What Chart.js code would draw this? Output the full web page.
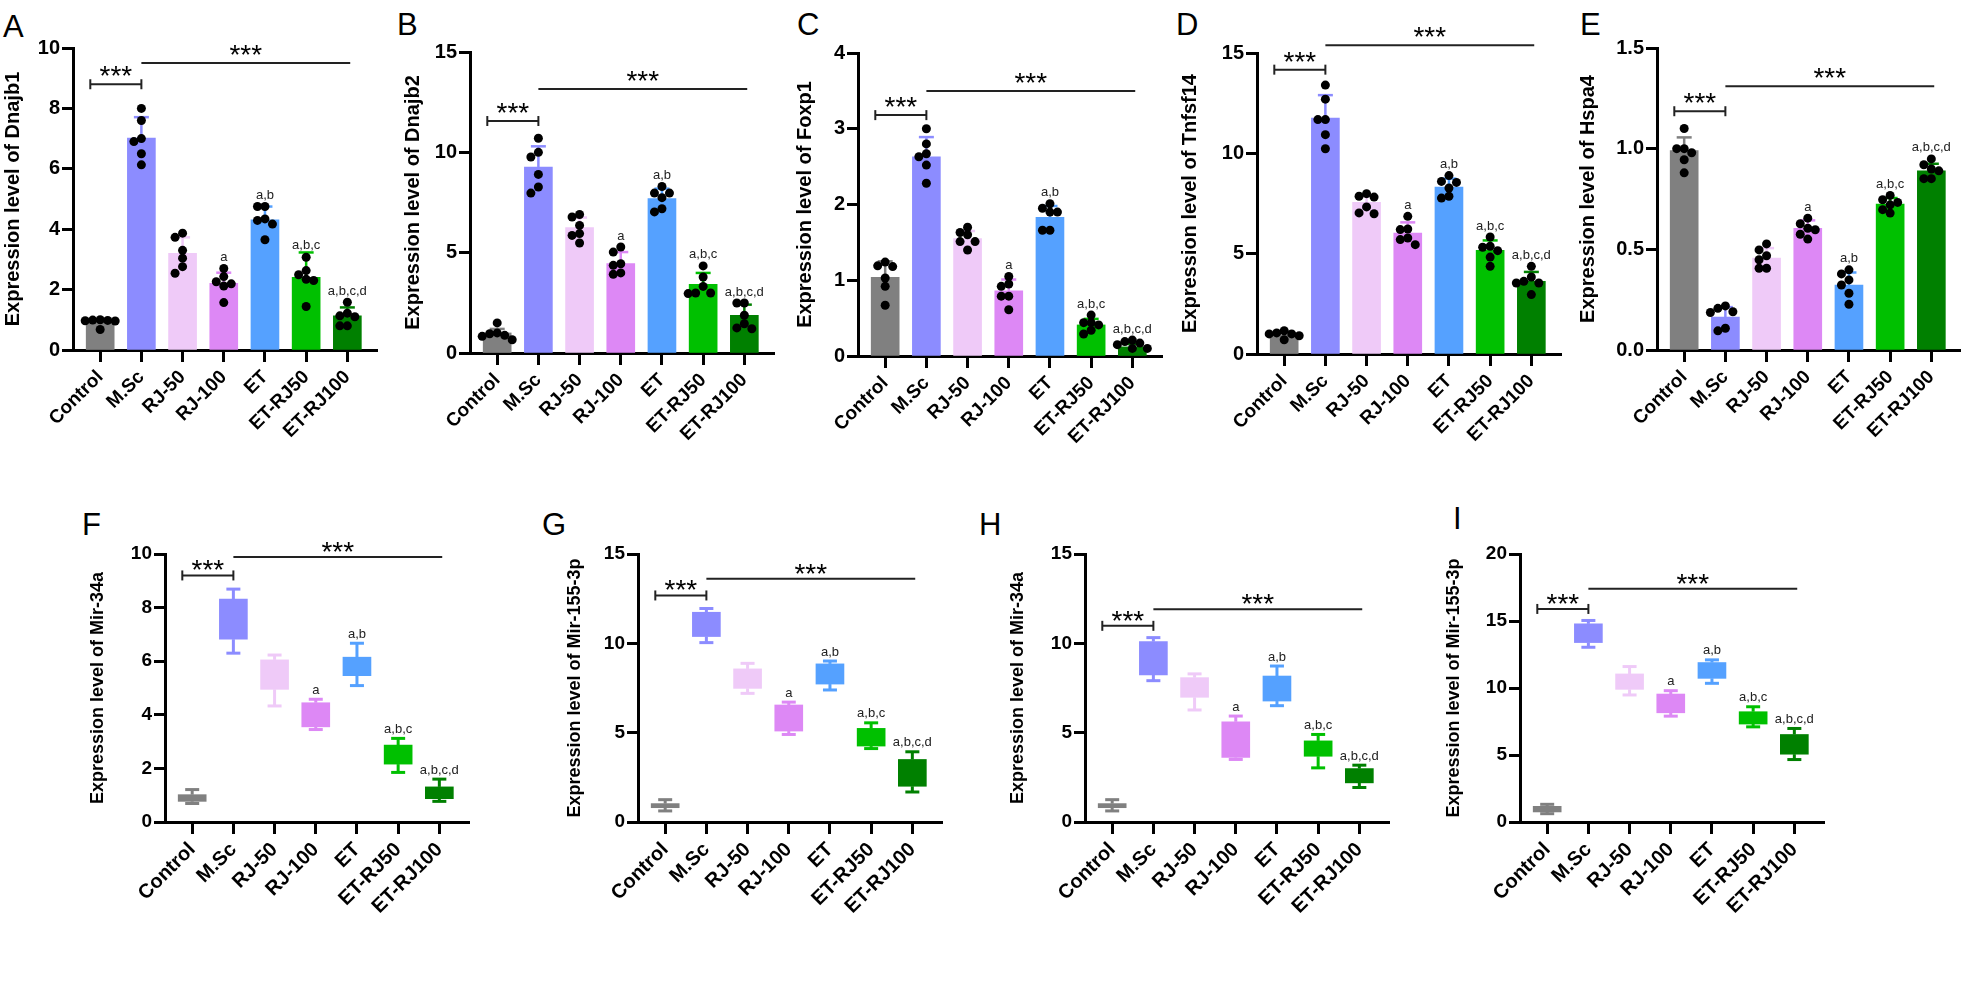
<!DOCTYPE html>
<html>
<head>
<meta charset="utf-8">
<script src="https://cdn.jsdelivr.net/npm/chart.js@4.4.1/dist/chart.umd.min.js"></script>
<style>
  html, body { margin: 0; padding: 0; background: #fff; }
  #page { position: relative; width: 1961px; height: 991px; overflow: hidden; font-family: "Liberation Sans", Arial, sans-serif; }
  #page canvas { position: absolute; }
  .lbl { position: absolute; font-size: 31px; line-height: 1; color: #000; }
</style>
</head>
<body>
<div id="page">
  <div class="lbl" style="left:3px;top:11px">A</div>
  <div class="lbl" style="left:397px;top:9px">B</div>
  <div class="lbl" style="left:797px;top:9px">C</div>
  <div class="lbl" style="left:1176px;top:9px">D</div>
  <div class="lbl" style="left:1580px;top:9px">E</div>
  <div class="lbl" style="left:82px;top:509px">F</div>
  <div class="lbl" style="left:542px;top:509px">G</div>
  <div class="lbl" style="left:979px;top:509px">H</div>
  <div class="lbl" style="left:1453px;top:503px">I</div>
</div>
<script>
Chart.defaults.font.family = '"Liberation Sans", Arial, sans-serif';

const groups = ['Control', 'M.Sc', 'RJ-50', 'RJ-100', 'ET', 'ET-RJ50', 'ET-RJ100'];
const groupColors = ['#808080', '#8c8cff', '#efcaf8', '#dd88f5', '#55a1ff', '#00c000', '#008000'];
const sigLetters = ['', '', '', 'a', 'a,b', 'a,b,c', 'a,b,c,d'];

// A - Dnajb1
const dnajb1Mean = [0.95, 7.02, 3.2, 2.21, 4.31, 2.41, 1.13];
const dnajb1Sd = [0.05, 0.69, 0.53, 0.35, 0.44, 0.82, 0.28];
const dnajb1Dots = [
  [1.0, 0.98, 0.97, 0.99, 0.96, 0.68],
  [8.0, 7.6, 7.0, 6.9, 6.5, 6.13],
  [3.87, 3.73, 3.3, 3.04, 2.76, 2.54],
  [2.7, 2.43, 2.26, 2.19, 2.12, 1.57],
  [4.75, 4.75, 4.34, 4.29, 4.17, 3.65],
  [3.07, 2.63, 2.49, 2.34, 2.3, 1.44],
  [1.58, 1.22, 1.13, 1.1, 0.8, 0.8]
];

// B - Dnajb2
const dnajb2Mean = [1.0, 9.27, 6.25, 4.45, 7.69, 3.42, 1.88];
const dnajb2Sd = [0.2, 1.03, 0.5, 0.58, 0.5, 0.57, 0.53];
const dnajb2Dots = [
  [1.5, 1.0, 0.96, 0.88, 0.83, 0.66],
  [10.7, 10.0, 9.77, 8.9, 8.27, 7.97],
  [6.9, 6.78, 6.36, 5.95, 5.86, 5.48],
  [5.28, 5.03, 4.45, 4.37, 3.99, 3.92],
  [8.3, 7.97, 7.97, 7.74, 7.19, 7.03],
  [4.34, 3.79, 3.32, 2.99, 2.99, 2.96],
  [2.49, 2.49, 1.88, 1.46, 1.25, 1.21]
];

// C - Foxp1
const foxp1Mean = [1.04, 2.63, 1.55, 0.86, 1.83, 0.41, 0.12];
const foxp1Sd = [0.21, 0.26, 0.1, 0.15, 0.15, 0.08, 0.04];
const foxp1Dots = [
  [1.24, 1.19, 1.18, 1.03, 0.92, 0.67],
  [3.0, 2.8, 2.67, 2.63, 2.52, 2.28],
  [1.7, 1.63, 1.6, 1.51, 1.51, 1.4],
  [1.05, 0.95, 0.92, 0.79, 0.79, 0.61],
  [2.01, 1.95, 1.9, 1.9, 1.66, 1.66],
  [0.54, 0.44, 0.44, 0.41, 0.34, 0.29],
  [0.21, 0.19, 0.17, 0.15, 0.1, 0.1]
];

// D - Tnfsf14
const tnfsf14Mean = [0.96, 11.76, 7.56, 6.03, 8.32, 5.17, 3.62];
const tnfsf14Sd = [0.15, 1.14, 0.3, 0.53, 0.42, 0.49, 0.47];
const tnfsf14Dots = [
  [1.16, 1.05, 1.0, 1.0, 0.91, 0.71],
  [13.4, 12.7, 11.68, 11.68, 10.93, 10.23],
  [7.99, 7.86, 7.82, 7.33, 7.03, 6.99],
  [6.86, 6.23, 6.2, 5.78, 5.7, 5.45],
  [8.89, 8.6, 8.55, 8.27, 7.86, 7.77],
  [5.83, 5.37, 5.32, 5.15, 4.83, 4.37],
  [4.37, 3.84, 3.62, 3.54, 3.54, 2.96]
];

// E - Hspa4
const hspa4Mean = [0.99, 0.163, 0.456, 0.604, 0.323, 0.725, 0.89];
const hspa4Sd = [0.066, 0.05, 0.05, 0.04, 0.062, 0.03, 0.035];
const hspa4Dots = [
  [1.1, 1.0, 1.0, 0.98, 0.945, 0.88],
  [0.219, 0.207, 0.19, 0.186, 0.108, 0.095],
  [0.527, 0.497, 0.468, 0.448, 0.406, 0.406],
  [0.655, 0.627, 0.605, 0.597, 0.575, 0.551],
  [0.398, 0.378, 0.348, 0.323, 0.282, 0.227],
  [0.768, 0.746, 0.733, 0.721, 0.697, 0.68],
  [0.949, 0.92, 0.899, 0.89, 0.851, 0.851]
];

// F - Mir-34a (box)
const mir34aFMin = [0.69, 6.3, 4.33, 3.45, 5.09, 1.85, 0.77];
const mir34aFQ1 = [0.77, 6.82, 4.95, 3.55, 5.46, 2.16, 0.87];
const mir34aFQ3 = [1.02, 8.32, 6.05, 4.45, 6.15, 2.87, 1.31];
const mir34aFMax = [1.21, 8.69, 6.23, 4.58, 6.67, 3.12, 1.6];

// G - Mir-155-3p (box)
const mir155GMin = [0.62, 10.04, 7.2, 4.9, 7.39, 4.11, 1.68];
const mir155GQ1 = [0.8, 10.38, 7.48, 5.09, 7.72, 4.25, 2.0];
const mir155GQ3 = [1.03, 11.74, 8.57, 6.55, 8.85, 5.24, 3.5];
const mir155GMax = [1.25, 11.95, 8.88, 6.71, 9.01, 5.55, 3.93];

// H - Mir-34a (box)
const mir34aHMin = [0.62, 7.91, 6.27, 3.5, 6.51, 3.03, 1.93];
const mir34aHQ1 = [0.8, 8.23, 6.98, 3.61, 6.77, 3.68, 2.19];
const mir34aHQ3 = [1.03, 10.1, 8.08, 5.61, 8.17, 4.54, 2.99];
const mir34aHMax = [1.25, 10.32, 8.29, 5.93, 8.73, 4.9, 3.18];

// I - Mir-155-3p (box)
const mir155IMin = [0.62, 13.04, 9.48, 7.9, 10.35, 7.1, 4.66];
const mir155IQ1 = [0.75, 13.39, 9.9, 8.15, 10.72, 7.31, 5.06];
const mir155IQ3 = [1.17, 14.79, 11.05, 9.55, 11.9, 8.23, 6.53];
const mir155IMax = [1.32, 15.04, 11.6, 9.8, 12.1, 8.6, 6.98];

// significance marks: [bracket Control–M.Sc, line M.Sc–ET-RJ100] in data units
const sigA = [8.8, 9.5], sigB = [11.56, 13.15], sigC = [3.18, 3.5], sigD = [14.17, 15.38], sigE = [1.186, 1.31];
const sigF = [9.2, 9.89], sigG = [12.68, 13.61], sigH = [10.98, 11.91], sigI = [15.9, 17.4];

const page = document.getElementById('page');
const PLOT_W = 304, X_MIN = -0.66, X_MAX = 6.72;
const UNIT_PX = PLOT_W / (X_MAX - X_MIN);

// simple beeswarm so dots do not sit on top of each other
function swarm(values, pxPerY) {
  const placed = [];
  const out = new Array(values.length);
  const order = values.map((v, k) => k).sort((a, b) => values[b] - values[a]);
  order.forEach(k => {
    const y = values[k] * pxPerY;
    for (const dx of [0, -7.5, 7.5, -15, 15, -22, 22]) {
      if (placed.every(q => Math.hypot(q.dx - dx, q.y - y) >= 7.5)) {
        placed.push({ dx, y });
        out[k] = dx / UNIT_PX;
        break;
      }
    }
  });
  return out;
}

function makePanel(p) {
  const big = p.row === 'top';
  const padTop = 60, xh = 112;
  const plotH = p.yBot - p.yTop;
  const W = p.yw + PLOT_W + 10, H = padTop + plotH + xh;
  const canvas = document.createElement('canvas');
  canvas.width = W; canvas.height = H;
  canvas.style.left = (p.x0 - p.yw) + 'px';
  canvas.style.top = (p.yTop - padTop) + 'px';
  canvas.style.width = W + 'px'; canvas.style.height = H + 'px';
  page.appendChild(canvas);

  const datasets = [];
  if (p.kind === 'bar') {
    const pxPerY = plotH / p.ymax;
    const dots = [];
    p.dots.forEach((vals, i) => {
      const offs = swarm(vals, pxPerY);
      vals.forEach((v, k) => dots.push({ x: i + offs[k], y: v }));
    });
    datasets.push({ type: 'scatter', data: dots, pointRadius: 4.5, pointBackgroundColor: '#000', pointBorderWidth: 0, order: 1 });
    datasets.push({ type: 'bar', data: p.mean.map((m, i) => ({ x: i, y: m })), backgroundColor: groupColors, barThickness: 28, order: 2 });
  } else {
    datasets.push({ type: 'bar', data: p.q1.map((q, i) => ({ x: i, y: [q, p.q3[i]] })), backgroundColor: groupColors, barThickness: 28, order: 2 });
  }

  const marks = {
    id: 'marks',
    afterDatasetDraw(chart, args) {
      if (args.meta.type !== 'bar') return;
      const ctx = chart.ctx, xs = chart.scales.x, ys = chart.scales.y;
      const seg = (a, b, c, d) => { ctx.beginPath(); ctx.moveTo(a, b); ctx.lineTo(c, d); ctx.stroke(); };
      ctx.save();
      groups.forEach((g, i) => {
        const cx = xs.getPixelForValue(i);
        ctx.strokeStyle = groupColors[i];
        if (p.kind === 'bar') {
          ctx.lineWidth = 2.5;
          const y0 = ys.getPixelForValue(p.mean[i]), y1 = ys.getPixelForValue(p.mean[i] + p.sd[i]);
          seg(cx, y0, cx, y1); seg(cx - 7.5, y1, cx + 7.5, y1);
        } else {
          ctx.lineWidth = 3;
          const yq1 = ys.getPixelForValue(p.q1[i]), yq3 = ys.getPixelForValue(p.q3[i]);
          const ymn = ys.getPixelForValue(p.min[i]), ymx = ys.getPixelForValue(p.max[i]);
          seg(cx, yq3, cx, ymx); seg(cx - 7, ymx, cx + 7, ymx);
          seg(cx, yq1, cx, ymn); seg(cx - 7, ymn, cx + 7, ymn);
        }
      });
      ctx.restore();
    },
    afterDraw(chart) {
      const ctx = chart.ctx, xs = chart.scales.x, ys = chart.scales.y;
      const seg = (a, b, c, d) => { ctx.beginPath(); ctx.moveTo(a, b); ctx.lineTo(c, d); ctx.stroke(); };
      ctx.save();
      // group letters
      ctx.fillStyle = '#222';
      ctx.font = '13px "Liberation Sans", Arial, sans-serif';
      ctx.textAlign = 'center';
      ctx.textBaseline = 'alphabetic';
      groups.forEach((g, i) => {
        if (!sigLetters[i]) return;
        let top;
        if (p.kind === 'bar') {
          top = Math.min(ys.getPixelForValue(Math.max(...p.dots[i])) - 4.5, ys.getPixelForValue(p.mean[i] + p.sd[i]));
          top -= 3;
        } else {
          top = ys.getPixelForValue(p.max[i]) - 5.5;
        }
        ctx.fillText(sigLetters[i], xs.getPixelForValue(i), top);
      });
      // brackets
      ctx.strokeStyle = '#222';
      ctx.lineWidth = 2;
      const by = ys.getPixelForValue(p.sig[0]), ly = ys.getPixelForValue(p.sig[1]);
      const bx0 = xs.getPixelForValue(-0.24), bx1 = xs.getPixelForValue(1);
      seg(bx0, by, bx1, by);
      seg(bx0, by - 5, bx0, by + 5);
      seg(bx1, by - 5, bx1, by + 5);
      const lx0 = xs.getPixelForValue(1), lx1 = xs.getPixelForValue(6.07);
      seg(lx0, ly, lx1, ly);
      ctx.fillStyle = '#000';
      ctx.font = '28px "Liberation Sans", Arial, sans-serif';
      const dy = big ? 1 : 4;
      ctx.fillText('***', (bx0 + bx1) / 2, by + dy);
      ctx.fillText('***', (lx0 + lx1) / 2, ly + dy);
      ctx.restore();
    }
  };

  const tickFont = { size: big ? 20 : 19, weight: 'bold' };
  new Chart(canvas, {
    type: 'bar',
    data: { datasets },
    options: {
      responsive: false,
      animation: false,
      layout: { padding: { top: padTop, left: 0, right: 10, bottom: 0 } },
      plugins: { legend: { display: false }, tooltip: { enabled: false } },
      scales: {
        x: {
          type: 'linear',
          offset: false,
          min: X_MIN, max: X_MAX,
          afterBuildTicks: s => { s.ticks = groups.map((g, i) => ({ value: i })); },
          afterFit: s => { s.height = xh; },
          ticks: {
            callback: v => groups[v],
            color: '#000',
            font: { size: big ? 19 : 20, weight: 'bold' },
            minRotation: 45, maxRotation: 45, autoSkip: false, padding: 4
          },
          grid: { offset: false, drawOnChartArea: false, tickLength: 12, tickWidth: 3, tickColor: '#000' },
          border: { color: '#000', width: 3 }
        },
        y: {
          min: 0, max: p.ymax,
          afterFit: s => { s.width = p.yw; },
          ticks: {
            stepSize: p.step,
            color: '#000',
            font: tickFont,
            padding: 2,
            callback: v => p.decimals ? v.toFixed(p.decimals) : v
          },
          grid: { drawOnChartArea: false, tickLength: 11, tickWidth: 3, tickColor: '#000' },
          border: { color: '#000', width: 3 },
          title: {
            display: true, text: p.title, color: '#000',
            font: { size: big ? 20 : 18, weight: 'bold' },
            padding: { top: 4, bottom: 4 }
          }
        }
      }
    },
    plugins: [marks]
  });
}

makePanel({ row: 'top', kind: 'bar', x0: 73, yw: 76, yTop: 48, yBot: 350, ymax: 10, step: 2, title: 'Expression level of Dnajb1', mean: dnajb1Mean, sd: dnajb1Sd, dots: dnajb1Dots, sig: sigA });
makePanel({ row: 'top', kind: 'bar', x0: 470, yw: 73, yTop: 52, yBot: 353, ymax: 15, step: 5, title: 'Expression level of Dnajb2', mean: dnajb2Mean, sd: dnajb2Sd, dots: dnajb2Dots, sig: sigB });
makePanel({ row: 'top', kind: 'bar', x0: 858, yw: 69, yTop: 53, yBot: 356, ymax: 4, step: 1, title: 'Expression level of Foxp1', mean: foxp1Mean, sd: foxp1Sd, dots: foxp1Dots, sig: sigC });
makePanel({ row: 'top', kind: 'bar', x0: 1257, yw: 83, yTop: 53, yBot: 354, ymax: 15, step: 5, title: 'Expression level of Tnfsf14', mean: tnfsf14Mean, sd: tnfsf14Sd, dots: tnfsf14Dots, sig: sigD });
makePanel({ row: 'top', kind: 'bar', x0: 1657, yw: 85, yTop: 48, yBot: 350, ymax: 1.5, step: 0.5, decimals: 1, title: 'Expression level of Hspa4', mean: hspa4Mean, sd: hspa4Sd, dots: hspa4Dots, sig: sigE });

makePanel({ row: 'bottom', kind: 'box', x0: 165, yw: 82, yTop: 554, yBot: 822, ymax: 10, step: 2, title: 'Expression level of Mir-34a', min: mir34aFMin, q1: mir34aFQ1, q3: mir34aFQ3, max: mir34aFMax, sig: sigF });
makePanel({ row: 'bottom', kind: 'box', x0: 638, yw: 78, yTop: 554, yBot: 822, ymax: 15, step: 5, title: 'Expression level of Mir-155-3p', min: mir155GMin, q1: mir155GQ1, q3: mir155GQ3, max: mir155GMax, sig: sigG });
makePanel({ row: 'bottom', kind: 'box', x0: 1085, yw: 82, yTop: 554, yBot: 822, ymax: 15, step: 5, title: 'Expression level of Mir-34a', min: mir34aHMin, q1: mir34aHQ1, q3: mir34aHQ3, max: mir34aHMax, sig: sigH });
makePanel({ row: 'bottom', kind: 'box', x0: 1520, yw: 81, yTop: 554, yBot: 822, ymax: 20, step: 5, title: 'Expression level of Mir-155-3p', min: mir155IMin, q1: mir155IQ1, q3: mir155IQ3, max: mir155IMax, sig: sigI });
</script>
</body>
</html>
